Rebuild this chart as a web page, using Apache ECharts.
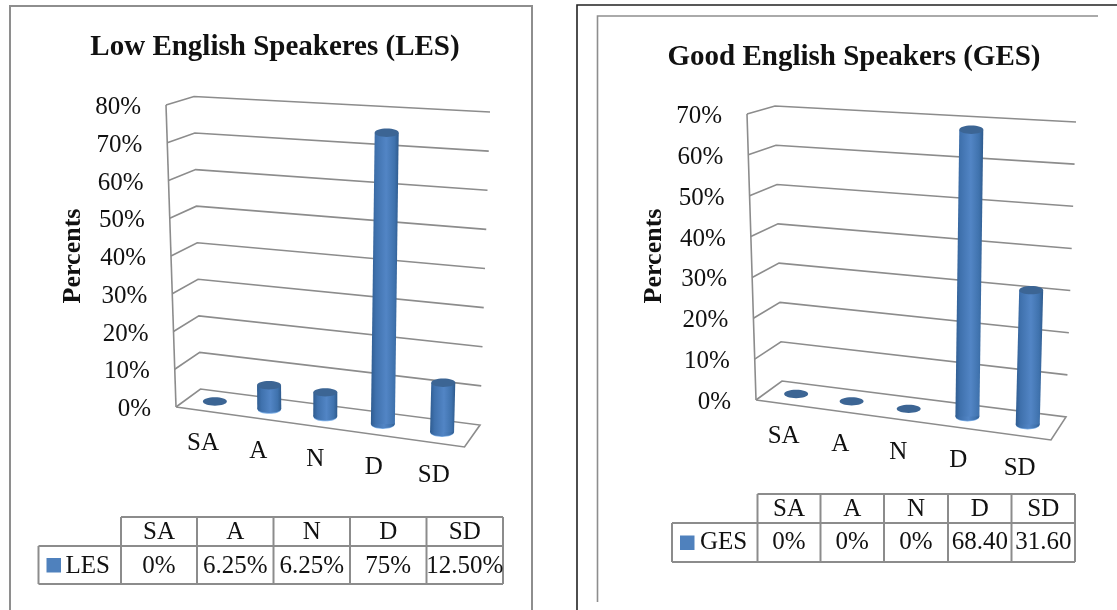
<!DOCTYPE html>
<html>
<head>
<meta charset="utf-8">
<style>html,body{margin:0;padding:0;background:#fff;overflow:hidden}#c{width:1117px;height:610px}</style>
<script src="https://cdn.jsdelivr.net/npm/echarts@6/dist/echarts.min.js"></script>
</head>
<body>
<div id="c"></div>
<script>
// ---- data ----
const categories = ['SA', 'A', 'N', 'D', 'SD'];
const lesValues = [0, 6.25, 6.25, 75, 12.5];
const gesValues = [0, 0, 0, 68.4, 31.6];
const lesTicks = [0, 10, 20, 30, 40, 50, 60, 70, 80];
const gesTicks = [0, 10, 20, 30, 40, 50, 60, 70];
const lesCells = ['0%', '6.25%', '6.25%', '75%', '12.50%'];
const gesCells = ['0%', '0%', '0%', '68.40', '31.60'];
const lesTitle = 'Low English Speakeres (LES)';
const gesTitle = 'Good English Speakers (GES)';
const yName = 'Percents';

// ---- layout of the two pseudo-3D boxes ----
const FONT = '"Liberation Serif", serif';
const GRID = '#8c8c8c';
const boxLes = {
  FLB: [176, 407], FRB: [464.5, 447], BLB: [200.5, 389], BRB: [480, 425],
  FLT: [166, 105], FRT: [474, 126], BLT: [194, 96.5], BRT: [490, 112]
};
const boxGes = {
  FLB: [756, 400], FRB: [1051, 440], BLB: [782, 381], BRB: [1066, 417],
  FLT: [747, 114], FRT: [1060, 136], BLT: [775, 106], BRT: [1076, 122]
};
const lerp = (a, b, t) => [a[0] + (b[0] - a[0]) * t, a[1] + (b[1] - a[1]) * t];
function project(box, u, w, v) {
  const floor = lerp(lerp(box.FLB, box.FRB, u), lerp(box.BLB, box.BRB, u), w);
  const top = lerp(lerp(box.FLT, box.FRT, u), lerp(box.BLT, box.BRT, u), w);
  return lerp(floor, top, v);
}
const warp = u => u * (0.93 + 0.07 * u);   // slight perspective along the category axis
function uv(params, api, cat, val) {
  const cs = params.coordSys;
  const p = api.coord([cat, val]);
  return [(p[0] - cs.x) / cs.width, (cs.y + cs.height - p[1]) / cs.height];
}

function gridSeries(box, ticks, idx) {
  return {
    type: 'custom', xAxisIndex: idx, yAxisIndex: idx, silent: true, clip: false, z: 1,
    data: ticks.map(t => [0, t]),
    renderItem(params, api) {
      const [, v] = uv(params, api, 0, api.value(1));
      const style = { fill: null, stroke: GRID, lineWidth: 1.6 };
      const pts = [project(box, 0, 0, v), project(box, 0, 1, v), project(box, 1, 1, v)];
      if (v === 0) pts.push(project(box, 1, 0, 0), project(box, 0, 0, 0));
      const children = [{ type: 'polyline', shape: { points: pts }, style }];
      if (v === 0) children.push({
        type: 'line',
        shape: { x1: box.FLB[0], y1: box.FLB[1], x2: box.FLT[0], y2: box.FLT[1] },
        style
      });
      const q = project(box, 0, 0, v);
      children.push({
        type: 'text',
        style: {
          text: api.value(1) + '%', x: q[0] - 25, y: q[1] + 2.5,
          align: 'right', verticalAlign: 'middle', fill: '#111', font: '25px ' + FONT
        }
      });
      return { type: 'group', children };
    }
  };
}

function cylinderSeries(box, values, idx, name) {
  return {
    type: 'custom', name, xAxisIndex: idx, yAxisIndex: idx, silent: true, clip: false, z: 3,
    data: values.map((v, i) => [i, v]),
    renderItem(params, api) {
      const [u, v] = uv(params, api, api.value(0), api.value(1));
      const uw = warp(u);
      const b = project(box, uw, 0.5, 0);
      const t = project(box, uw, 0.5, v);
      const rx = 12, ry = 4.2;
      const topDisc = {
        type: 'ellipse', shape: { cx: t[0], cy: t[1], rx, ry },
        style: { fill: '#3c6594' }
      };
      if (v === 0) return topDisc;
      const grad = {
        type: 'linear', x: 0, y: 0, x2: 1, y2: 0,
        colorStops: [
          { offset: 0, color: '#2f5c90' }, { offset: 0.18, color: '#3f71ad' },
          { offset: 0.55, color: '#5285c5' }, { offset: 0.85, color: '#3f72ad' },
          { offset: 1, color: '#2e5a8c' }
        ]
      };
      return {
        type: 'group',
        children: [
          { type: 'ellipse', shape: { cx: b[0], cy: b[1] + 0.8, rx: rx - 0.5, ry }, style: { fill: '#7fb0e6' } },
          { type: 'ellipse', shape: { cx: b[0], cy: b[1], rx, ry }, style: { fill: grad } },
          {
            type: 'polygon',
            shape: { points: [[b[0] - rx, b[1]], [t[0] - rx, t[1]], [t[0] + rx, t[1]], [b[0] + rx, b[1]]] },
            style: { fill: grad }
          },
          topDisc
        ]
      };
    }
  };
}

function catLabelSeries(box, idx) {
  return {
    type: 'custom', xAxisIndex: idx, yAxisIndex: idx, silent: true, clip: false, z: 2,
    data: categories.map((c, i) => [i, 0]),
    renderItem(params, api) {
      const i = api.value(0);
      const [u] = uv(params, api, i, 0);
      const p = project(box, warp(u), 0, 0);
      return {
        type: 'text',
        style: {
          text: categories[i], x: p[0], y: p[1] + 33,
          align: 'center', verticalAlign: 'middle', fill: '#111', font: '25px ' + FONT
        }
      };
    }
  };
}

// ---- data table drawn as graphic elements ----
function tableGraphics(xs, yTop, yMid, yBot, xLeft, swatchX, labelX, label, cells, textDy) {
  const out = [];
  const stroke = { stroke: GRID, lineWidth: 2, fill: null };
  const seg = (x1, y1, x2, y2) => out.push({ type: 'line', silent: true, shape: { x1, y1, x2, y2 }, style: stroke });
  seg(xs[0], yTop, xs[xs.length - 1], yTop);
  seg(xLeft, yMid, xs[xs.length - 1], yMid);
  seg(xLeft, yBot, xs[xs.length - 1], yBot);
  seg(xLeft, yMid, xLeft, yBot);
  xs.forEach(x => seg(x, yTop, x, yBot));
  const txt = (text, x, y, align) => out.push({
    type: 'text', silent: true,
    style: { text, x, y, align: align || 'center', verticalAlign: 'middle', fill: '#111', font: '25px ' + FONT }
  });
  categories.forEach((c, i) => {
    const cx = (xs[i] + xs[i + 1]) / 2;
    txt(c, cx, (yTop + yMid) / 2 + 1);
    txt(cells[i], cx, (yMid + yBot) / 2 + textDy);
  });
  const my = (yMid + yBot) / 2;
  out.push({ type: 'rect', silent: true, shape: { x: swatchX, y: my - 7, width: 14.5, height: 14.5 }, style: { fill: '#4f81bd' } });
  txt(label, labelX, my + textDy, 'left');
  return out;
}

const frames = [
  { type: 'rect', silent: true, shape: { x: 10, y: 6, width: 522, height: 640 }, style: { fill: null, stroke: '#8e8e8e', lineWidth: 2 } },
  { type: 'rect', silent: true, shape: { x: 577, y: 5, width: 600, height: 640 }, style: { fill: null, stroke: '#222', lineWidth: 1.6 } },
  { type: 'polyline', silent: true, shape: { points: [[597.5, 602], [597.5, 16], [1098, 16]] }, style: { fill: null, stroke: '#8e8e8e', lineWidth: 1.6 } }
];
const rotated = (x, y) => ({
  type: 'text', silent: true, x, y, rotation: Math.PI / 2,
  style: { text: yName, align: 'center', verticalAlign: 'middle', fill: '#111', font: 'bold 26px ' + FONT }
});

const chart = echarts.init(document.getElementById('c'), null, { renderer: 'canvas' });
chart.setOption({
  animation: false,
  backgroundColor: '#fff',
  title: [
    { text: lesTitle, left: 270, top: 43, textAlign: 'center', textVerticalAlign: 'middle', textStyle: { fontFamily: FONT, fontWeight: 'bold', fontSize: 29, color: '#111' } },
    { text: gesTitle, left: 849, top: 53, textAlign: 'center', textVerticalAlign: 'middle', textStyle: { fontFamily: FONT, fontWeight: 'bold', fontSize: 29, color: '#111' } }
  ],
  grid: [
    { left: 176, top: 100, width: 288, height: 307 },
    { left: 756, top: 110, width: 295, height: 290 }
  ],
  xAxis: [
    { gridIndex: 0, type: 'category', data: categories, show: false },
    { gridIndex: 1, type: 'category', data: categories, show: false }
  ],
  yAxis: [
    { gridIndex: 0, type: 'value', min: 0, max: 80, interval: 10, show: false },
    { gridIndex: 1, type: 'value', min: 0, max: 70, interval: 10, show: false }
  ],
  series: [
    gridSeries(boxLes, lesTicks, 0),
    catLabelSeries(boxLes, 0),
    cylinderSeries(boxLes, lesValues, 0, 'LES'),
    gridSeries(boxGes, gesTicks, 1),
    catLabelSeries(boxGes, 1),
    cylinderSeries(boxGes, gesValues, 1, 'GES')
  ],
  graphic: { elements: [
    ...frames,
    rotated(73, 256),
    rotated(654, 256),
    ...tableGraphics([121, 197, 273.5, 350, 426.5, 503], 517, 546, 584, 38.5, 46.5, 65.5, 'LES', lesCells, 1),
    ...tableGraphics([757.5, 820.5, 884, 948, 1011.5, 1075], 494, 523, 562, 672, 680, 700, 'GES', gesCells, 0)
  ] }
});
</script>
</body>
</html>
